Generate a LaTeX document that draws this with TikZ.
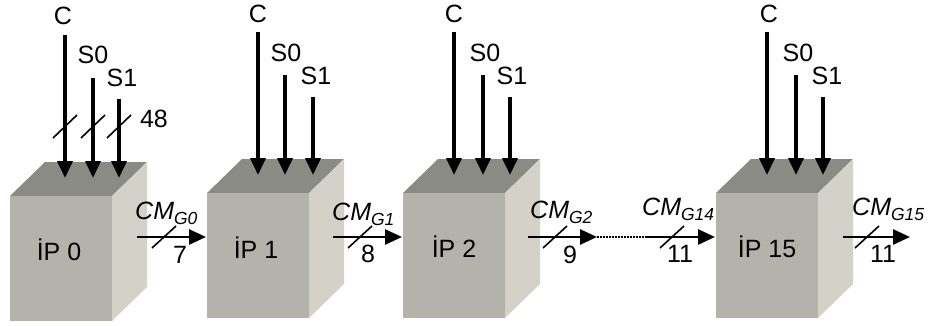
\documentclass[tikz,border=0pt]{standalone}
\usepackage{fontspec}
\setmainfont{Liberation Sans}
\usetikzlibrary{arrows.meta}
\definecolor{onyuz}{RGB}{179,179,171}
\definecolor{ustyuz}{RGB}{139,139,133}
\definecolor{yanyuz}{RGB}{211,209,200}
\newcommand{\cmg}[1]{\textit{CM}\raisebox{-0.2em}{\fontsize{17.5}{18}\selectfont\textit{G#1}}}
\begin{document}
\begin{tikzpicture}[x=1pt,y=-1pt,
  yazi/.style={font=\fontsize{25}{28}\selectfont,inner sep=0pt,anchor=base},
  cmyazi/.style={font=\fontsize{25}{28}\selectfont,inner sep=0pt,anchor=base west},
  giris/.style={line width=3.8pt,-{Triangle[length=17pt,width=15pt]}},
  cikis/.style={line width=2.8pt,-{Triangle[length=17pt,width=15pt]}},
  bolu/.style={line width=1.6pt},
  ust/.style={fill=ustyuz},yan/.style={fill=yanyuz},on/.style={fill=onyuz}]
\useasboundingbox (0,0) rectangle (928,326);
%IP 0 kutusu
\fill[ust](10,196)--(45,162)--(147,162)--(112,196)--cycle;
\fill[yan](112,196)--(147,162)--(147,287)--(112,321)--cycle;
\fill[on](10,196)rectangle(112,321);
%IP 1 kutusu
\fill[ust](207,193)--(242,159)--(344,159)--(309,193)--cycle;
\fill[yan](309,193)--(344,159)--(344,284)--(309,318)--cycle;
\fill[on](207,193)rectangle(309,318);
%IP 2 kutusu
\fill[ust](403,193)--(438,159)--(540,159)--(505,193)--cycle;
\fill[yan](505,193)--(540,159)--(540,284)--(505,318)--cycle;
\fill[on](403,193)rectangle(505,318);
%IP 15 kutusu
\fill[ust](716,193)--(751,159)--(853,159)--(818,193)--cycle;
\fill[yan](818,193)--(853,159)--(853,284)--(818,318)--cycle;
\fill[on](716,193)rectangle(818,318);
%kutu isimleri
\node[yazi](ip0)at(59,260){İP 0};
\node[yazi](ip1)at(256,258){İP 1};
\node[yazi](ip2)at(454,257){İP 2};
\node[yazi](ip15)at(767,257){İP 15};
%IP 0 girisleri
\node[yazi](c0)at(63,25){C};
\node[yazi](sa0)at(93,64){S0};
\node[yazi](sb0)at(122,87){S1};
\coordinate(c0b)at(65,35);\coordinate(c0s)at(65,178);
\coordinate(sa0b)at(93,78);\coordinate(sa0s)at(93,178);
\coordinate(sb0b)at(119,99);\coordinate(sb0s)at(119,178);
\draw[giris](c0b)--(c0s);
\draw[giris](sa0b)--(sa0s);
\draw[giris](sb0b)--(sb0s);
\draw[bolu](53,138)--(77,115);
\draw[bolu](81,138)--(105,115);
\draw[bolu](107,138)--(131,115);
\node[yazi](n48)at(154,128){48};
%IP 1 girisleri
\node[yazi](c1)at(258,23){C};
\node[yazi](sa1)at(286,62){S0};
\node[yazi](sb1)at(316,85){S1};
\coordinate(c1b)at(258,32);\coordinate(c1s)at(258,175);
\coordinate(sa1b)at(285,75);\coordinate(sa1s)at(285,175);
\coordinate(sb1b)at(313,97);\coordinate(sb1s)at(313,175);
\draw[giris](c1b)--(c1s);
\draw[giris](sa1b)--(sa1s);
\draw[giris](sb1b)--(sb1s);
%IP 2 girisleri
\node[yazi](c2)at(454,23){C};
\node[yazi](sa2)at(485,62){S0};
\node[yazi](sb2)at(512,85){S1};
\coordinate(c2b)at(454,32);\coordinate(c2s)at(454,175);
\coordinate(sa2b)at(483,75);\coordinate(sa2s)at(483,175);
\coordinate(sb2b)at(510,97);\coordinate(sb2s)at(510,175);
\draw[giris](c2b)--(c2s);
\draw[giris](sa2b)--(sa2s);
\draw[giris](sb2b)--(sb2s);
%IP 15 girisleri
\node[yazi](c15)at(769,23){C};
\node[yazi](sa15)at(798,62){S0};
\node[yazi](sb15)at(827,85){S1};
\coordinate(c15b)at(767,32);\coordinate(c15s)at(767,175);
\coordinate(sa15b)at(796,75);\coordinate(sa15s)at(796,175);
\coordinate(sb15b)at(823,97);\coordinate(sb15s)at(823,175);
\draw[giris](c15b)--(c15s);
\draw[giris](sa15b)--(sa15s);
\draw[giris](sb15b)--(sb15s);
%kutular arasi baglantilar
\coordinate(a0)at(137,237);\coordinate(b1)at(206,237);
\coordinate(a1)at(333,237);\coordinate(b2)at(402,237);
\coordinate(a2)at(528,237);\coordinate(d2)at(597,237);
\coordinate(d14)at(645,237);\coordinate(b15)at(715,237);
\coordinate(a15)at(843,237);\coordinate(son)at(910,237);
\draw[cikis](a0)--(b1);
\draw[cikis](a1)--(b2);
\draw[cikis](a2)--(d2);
\draw[line width=1.2pt,dash pattern=on 1.5pt off 1.5pt](d2)--(d14);%noktali
\draw[cikis](d14)--(b15);
\draw[cikis](a15)--(son);
\draw[bolu](152,248)--(176,226);
\draw[bolu](348,248)--(372,226);
\draw[bolu](543,248)--(567,226);
\draw[bolu](660,248)--(684,226);
\draw[bolu](855,248)--(879,226);
%etiketler
\node[cmyazi](g0)at(135,219){\cmg{0}};
\node[cmyazi](g1)at(332,220){\cmg{1}};
\node[cmyazi](g2)at(530,218){\cmg{2}};
\node[cmyazi](g14)at(642,215){\cmg{14}};
\node[cmyazi](g15)at(852,215){\cmg{15}};
\node[yazi](n7)at(180,263){7};
\node[yazi](n8)at(368,262){8};
\node[yazi](n9)at(570,263){9};
\node[yazi](n11a)at(680,262){11};
\node[yazi](n11b)at(883,262){11};
\end{tikzpicture}
\end{document}
